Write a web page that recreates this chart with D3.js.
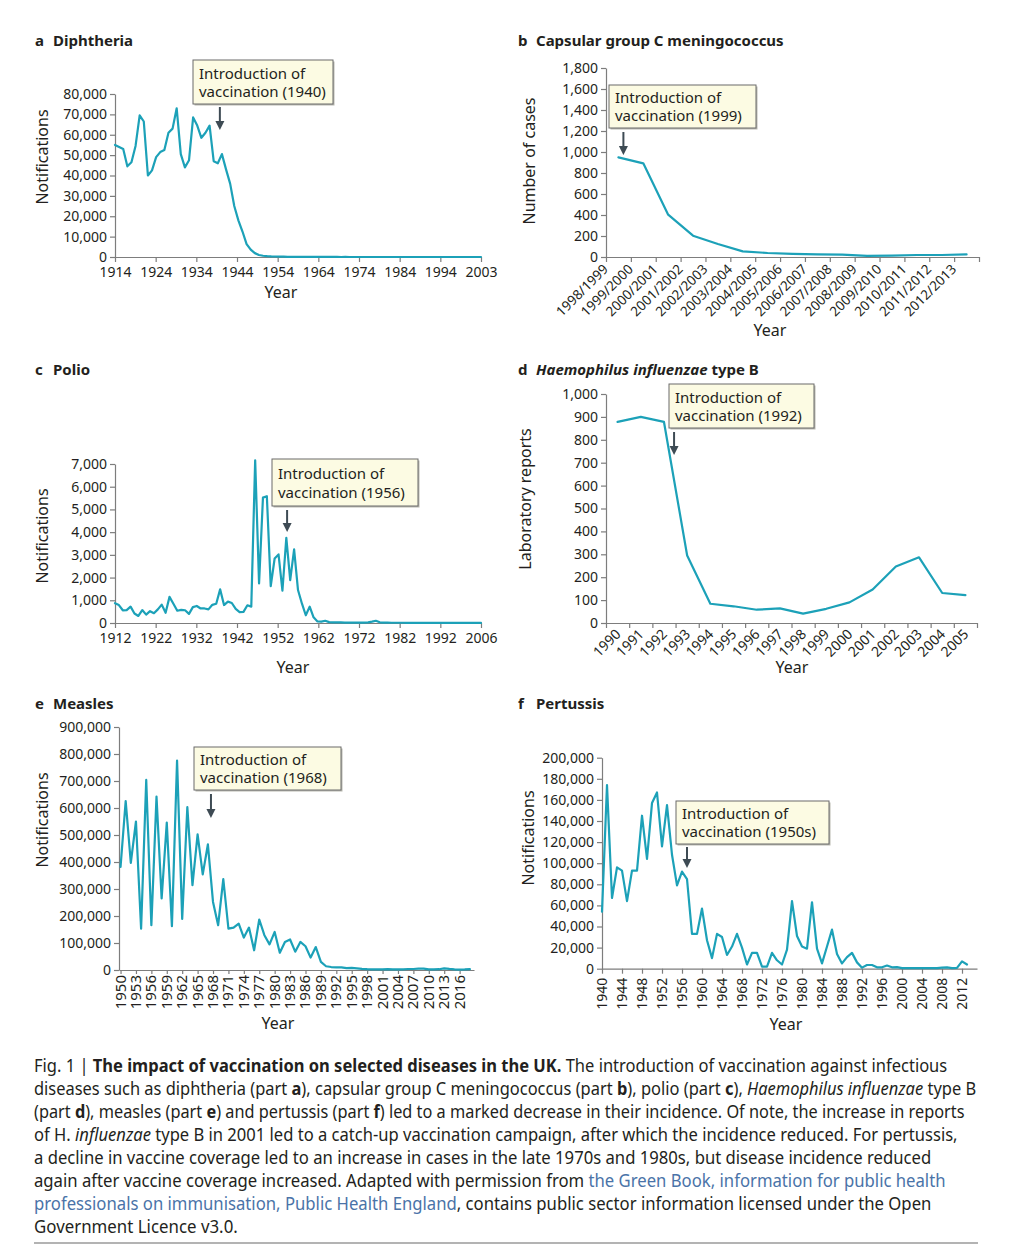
<!DOCTYPE html>
<html><head><meta charset="utf-8">
<script src="https://cdn.jsdelivr.net/npm/d3@7"></script>
<style>
body{margin:0;background:#fff;}
svg{display:block;}
</style></head>
<body><svg id="c" width="1012" height="1248"></svg>
<script>
// ---------------- DATA ----------------
// a Diphtheria (notifications, yearly from 1914)
const diphStart = 1914;
const diphtheria = [55000,54000,53000,44500,46500,54500,69500,66500,40000,42500,49000,51500,52500,61000,63000,73000,50500,44000,47500,68500,64500,58500,61000,64500,47000,46000,50500,43000,36000,25000,18000,12500,6300,3600,1900,1000,600,400,
  300,250,180,150,60,40,80,100,50,50,20,30,20,25,20,15,20,10,20,10,
  10,5,10,5,10,5,5,10,5,5,5,5,5,5,5,5,5,5,5,5,5,5,5,5,5,5,5,5,5,5,5,5];
const diphTickLabels = ["1914","1924","1934","1944","1954","1964","1974","1984","1994","2003"];
const diphYTicks = [0,10000,20000,30000,40000,50000,60000,70000,80000];

// b Capsular group C meningococcus (number of cases by season)
const meningSeasons = ["1998/1999","1999/2000","2000/2001","2001/2002","2002/2003","2003/2004","2004/2005","2005/2006","2006/2007","2007/2008","2008/2009","2009/2010","2010/2011","2011/2012","2012/2013"];
const meningCases = [949,892,403,203,124,54,38,29,25,22,10,13,19,19,25];
const meningYTicks = [0,200,400,600,800,1000,1200,1400,1600,1800];

// c Polio (notifications, yearly from 1912)
const polioStart = 1912;
const polio = [870,790,560,570,720,420,310,570,370,520,430,600,810,450,1150,850,540,580,560,400,700,750,640,640,600,800,850,1480,790,940,880,620,480,490,780,720,
  7160,1740,5520,5580,1625,2840,3020,1420,3750,1890,3240,1450,860,340,720,250,70,60,100,
  40,30,30,25,20,20,20,20,15,20,30,60,100,30,20,15,10,10,10,10,
  5,5,5,5,5,5,5,5,5,5,5,5,5,5,5,5,5,5,5,5];
const polioTickLabels = ["1912","1922","1932","1942","1952","1962","1972","1982","1992","2006"];
const polioYTicks = [0,1000,2000,3000,4000,5000,6000,7000];

// d Haemophilus influenzae type B (laboratory reports)
const hibYears = ["1990","1991","1992","1993","1994","1995","1996","1997","1998","1999","2000","2001","2002","2003","2004","2005"];
const hibReports = [878,900,878,295,84,73,58,64,41,62,90,146,247,287,131,122];
const hibYTicks = [0,100,200,300,400,500,600,700,800,900,1000];

// e Measles (notifications, yearly from 1950)
const measlesStart = 1950;
const measles = [382000,626000,397000,550000,153000,704000,166000,642000,265000,546000,162000,776000,189000,603000,314000,502000,354000,465000,252000,166000,
  337000,153000,157000,172000,120000,157000,73000,187000,129000,95000,141000,64000,104000,113000,68000,104000,88000,46000,85000,30000,
  14000,11000,10000,10000,7000,8000,6000,4000,3000,2500,2400,2300,3000,2500,2400,2300,3700,3700,5000,5000,
  2200,2100,2900,6200,4000,2500,1500,2000,3000];
const measlesTickYears = [1950,1953,1956,1959,1962,1965,1968,1971,1974,1977,1980,1983,1986,1989,1992,1995,1998,2001,2004,2007,2010,2013,2016];
const measlesYTicks = [0,100000,200000,300000,400000,500000,600000,700000,800000,900000];

// f Pertussis (notifications, yearly from 1940)
const pertStart = 1940;
const pertussis = [54000,174000,67000,96000,93000,64000,93000,93000,145000,104000,
  157000,167000,116000,155000,108000,79000,92000,85000,33000,33000,
  57000,27000,10000,33000,30000,13000,21000,33000,20000,4000,
  15000,15000,2000,2000,15000,8000,4000,18000,64000,31000,
  21000,19000,63000,19000,5000,21000,37000,14000,5000,11000,
  15000,6000,1000,3500,3500,1300,1300,3000,1300,1500,
  500,500,500,500,500,500,500,500,1000,1200,
  600,800,7000,4000];
const pertTickYears = [1940,1944,1948,1952,1956,1960,1964,1968,1972,1976,1980,1984,1988,1992,1996,2000,2004,2008,2012];
const pertYTicks = [0,20000,40000,60000,80000,100000,120000,140000,160000,180000,200000];

// ---------------- STYLE ----------------
const FONT = '"Noto Sans","Open Sans",sans-serif';
const INK = '#231f20', AXIS = '#7d7d7d', LINE = '#1ca1b8', ARROW = '#3e4b54';
const BOXFILL = '#fcfbe3', BOXSTROKE = '#6b6b6b', LINK = '#4a73a8';

const svg = d3.select('#c').style('font-family', FONT);
const fmt = d3.format(',');

function styleAxis(g, fs) {
  g.attr('font-family', null).attr('font-size', null);
  g.select('.domain').attr('stroke', AXIS).attr('stroke-width', 1.2);
  g.selectAll('.tick line').attr('stroke', AXIS).attr('stroke-width', 1.2);
  g.selectAll('.tick text').attr('fill', INK).style('font-size', fs + 'px').style('font-family', FONT);
  return g;
}
function yAxis(x, scale, ticks) {
  const g = svg.append('g').attr('transform', `translate(${x},0)`)
    .call(d3.axisLeft(scale).tickValues(ticks).tickFormat(fmt).tickSize(5).tickPadding(3).tickSizeOuter(0));
  return styleAxis(g, 14);
}
function title(x, y, letter, parts) {
  const t = svg.append('text').attr('x', x).attr('y', y).attr('fill', INK)
    .style('font-size', '15px').style('font-weight', 'bold');
  t.append('tspan').text(letter);
  parts.forEach((p, i) => {
    const s = t.append('tspan').text(p.t);
    if (i === 0) s.attr('x', x + 18);
    if (p.i) s.style('font-style', 'italic');
  });
}
function yTitle(x, y, txt) {
  svg.append('text').attr('transform', `translate(${x},${y}) rotate(-90)`)
    .attr('text-anchor', 'middle').attr('fill', INK).style('font-size', '16px').text(txt);
}
function xTitle(x, y, txt) {
  svg.append('text').attr('x', x).attr('y', y).attr('text-anchor', 'middle')
    .attr('fill', INK).style('font-size', '16px').text(txt);
}
function drawLine(data) {
  svg.append('path').datum(data)
    .attr('fill', 'none').attr('stroke', LINE).attr('stroke-width', 2.2)
    .attr('stroke-linejoin', 'round').attr('stroke-linecap', 'round')
    .attr('d', d3.line().x(d => d[0]).y(d => d[1]));
}
function box(x, y, w, h, lines) {
  svg.append('rect').attr('x', x + 1.5).attr('y', y + 1.5).attr('width', w).attr('height', h)
    .attr('fill', '#b9b9b0');
  svg.append('rect').attr('x', x).attr('y', y).attr('width', w).attr('height', h)
    .attr('fill', BOXFILL).attr('stroke', BOXSTROKE).attr('stroke-width', 1);
  const t = svg.append('text').attr('fill', INK).style('font-size', '15px');
  t.append('tspan').attr('x', x + 6).attr('y', y + h * 0.43).text(lines[0]);
  t.append('tspan').attr('x', x + 6).attr('y', y + h * 0.84).text(lines[1]);
}
function arrow(x, y1, y2) {
  svg.append('line').attr('x1', x).attr('x2', x).attr('y1', y1).attr('y2', y2 - 7)
    .attr('stroke', ARROW).attr('stroke-width', 2);
  svg.append('path').attr('d', `M${x - 4.5},${y2 - 9}L${x + 4.5},${y2 - 9}L${x},${y2}Z`).attr('fill', ARROW);
}

// ---------------- PANEL a ----------------
{
  const x = d3.scaleLinear().domain([diphStart, 2003]).range([115, 481]);
  const xt = d3.scalePoint().domain(diphTickLabels).range([115, 481]);
  const y = d3.scaleLinear().domain([0, 80000]).range([257, 94]);
  yAxis(115, y, diphYTicks);
  styleAxis(svg.append('g').attr('transform', 'translate(0,257)')
    .call(d3.axisBottom(xt).tickSize(5).tickPadding(5).tickSizeOuter(0)), 14);
  drawLine(diphtheria.map((v, i) => [x(diphStart + i), y(v)]));
  title(35, 46, 'a', [{t: 'Diphtheria'}]);
  yTitle(48, 157, 'Notifications');
  xTitle(281, 298, 'Year');
  box(193, 60, 140, 44, ['Introduction of', 'vaccination (1940)']);
  arrow(x(1939.5), 107, 130);
}

// ---------------- PANEL b ----------------
{
  const x = d3.scaleBand().domain(meningSeasons).range([606, 979]).padding(0);
  const xi = d3.scaleLinear().domain([0, meningSeasons.length]).range([606, 979]);
  const y = d3.scaleLinear().domain([0, 1800]).range([257, 68]);
  yAxis(606, y, meningYTicks);
  styleAxis(svg.append('g').attr('transform', 'translate(0,257)')
    .call(d3.axisBottom(xi).tickValues(d3.range(meningSeasons.length + 1)).tickFormat('').tickSize(5).tickSizeOuter(0)), 14);
  svg.append('g').selectAll('text').data(meningSeasons).join('text')
    .attr('transform', d => `translate(${x(d) + 3},${270}) rotate(-45)`)
    .attr('text-anchor', 'end').attr('fill', INK).style('font-size', '13.5px').text(d => d);
  drawLine(meningCases.map((v, i) => [x(meningSeasons[i]) + x.bandwidth() / 2, y(v)]));
  title(518, 46, 'b', [{t: 'Capsular group C meningococcus'}]);
  yTitle(535, 161, 'Number of cases');
  xTitle(770, 336, 'Year');
  box(609, 85, 147, 43, ['Introduction of', 'vaccination (1999)']);
  arrow(x(meningSeasons[0]) + x.bandwidth() * 0.7, 132, 155);
}

// ---------------- PANEL c ----------------
{
  const x = d3.scaleLinear().domain([polioStart, 2006]).range([115, 481]);
  const xt = d3.scalePoint().domain(polioTickLabels).range([115, 481]);
  const y = d3.scaleLinear().domain([0, 7000]).range([623, 464]);
  yAxis(115, y, polioYTicks);
  styleAxis(svg.append('g').attr('transform', 'translate(0,623)')
    .call(d3.axisBottom(xt).tickSize(5).tickPadding(5).tickSizeOuter(0)), 14);
  drawLine(polio.map((v, i) => [x(polioStart + i), y(v)]));
  title(35, 375, 'c', [{t: 'Polio'}]);
  yTitle(48, 536, 'Notifications');
  xTitle(293, 673, 'Year');
  box(272, 459, 146, 47, ['Introduction of', 'vaccination (1956)']);
  arrow(x(1956.2), 510, 532);
}

// ---------------- PANEL d ----------------
{
  const x = d3.scaleBand().domain(hibYears).range([606, 977]).padding(0);
  const xi = d3.scaleLinear().domain([0, hibYears.length]).range([606, 977]);
  const y = d3.scaleLinear().domain([0, 1000]).range([623, 394]);
  yAxis(606, y, hibYTicks);
  styleAxis(svg.append('g').attr('transform', 'translate(0,623)')
    .call(d3.axisBottom(xi).tickValues(d3.range(hibYears.length + 1)).tickFormat('').tickSize(5).tickSizeOuter(0)), 14);
  svg.append('g').selectAll('text').data(hibYears).join('text')
    .attr('transform', d => `translate(${x(d) + x.bandwidth() / 2 + 4},${635}) rotate(-45)`)
    .attr('text-anchor', 'end').attr('fill', INK).style('font-size', '14px').text(d => d);
  drawLine(hibReports.map((v, i) => [x(hibYears[i]) + x.bandwidth() / 2, y(v)]));
  title(518, 375, 'd', [{t: 'Haemophilus influenzae', i: true}, {t: ' type B'}]);
  yTitle(531, 499, 'Laboratory reports');
  xTitle(792, 673, 'Year');
  box(669, 384, 145, 44, ['Introduction of', 'vaccination (1992)']);
  arrow(xi(3) - 1.5, 432, 455);
}

// ---------------- PANEL e ----------------
{
  const x = d3.scaleLinear().domain([1949.7, 2018.8]).range([119, 474]);
  const y = d3.scaleLinear().domain([0, 900000]).range([970, 727]);
  yAxis(119, y, measlesYTicks);
  const g = svg.append('g').attr('transform', 'translate(0,970)')
    .call(d3.axisBottom(x).tickValues(measlesTickYears).tickFormat(d3.format('d')).tickSize(4).tickSizeOuter(0));
  styleAxis(g, 15);
  g.selectAll('.tick text').attr('transform', 'rotate(-90)').attr('text-anchor', 'end')
    .attr('x', -5).attr('y', 0).attr('dy', '0.3em');
  drawLine(measles.map((v, i) => [x(measlesStart + i), y(v)]));
  title(35, 709, 'e', [{t: 'Measles'}]);
  yTitle(48, 820, 'Notifications');
  xTitle(278, 1029, 'Year');
  box(194, 747, 147, 43, ['Introduction of', 'vaccination (1968)']);
  arrow(x(1967.6), 794, 818);
}

// ---------------- PANEL f ----------------
{
  const x = d3.scaleLinear().domain([1940, 2015]).range([602, 977]);
  const y = d3.scaleLinear().domain([0, 200000]).range([968.7, 757.7]);
  yAxis(602, y, pertYTicks);
  const g = svg.append('g').attr('transform', 'translate(0,968.7)')
    .call(d3.axisBottom(x).tickValues(pertTickYears).tickFormat(d3.format('d')).tickSize(5).tickSizeOuter(0));
  styleAxis(g, 14);
  g.selectAll('.tick text').attr('transform', 'rotate(-90)').attr('text-anchor', 'end')
    .attr('x', -9).attr('y', 0).attr('dy', '0.3em');
  drawLine(pertussis.map((v, i) => [x(pertStart + i), y(v)]));
  title(518, 709, 'f', [{t: 'Pertussis'}]);
  yTitle(534, 838, 'Notifications');
  xTitle(786, 1030, 'Year');
  box(676, 801, 153, 43, ['Introduction of', 'vaccination (1950s)']);
  arrow(x(1957), 847, 868);
}

// ---------------- CAPTION ----------------
const captionLines = [
  {w: 948, s: [['Fig. 1 | '], ['The impact of vaccination on selected diseases in the UK.', 'b'], [' The introduction of vaccination against infectious']]},
  {w: 977, s: [['diseases such as diphtheria (part '], ['a', 'b'], ['), capsular group C meningococcus (part '], ['b', 'b'], ['), polio (part '], ['c', 'b'], ['), '], ['Haemophilus influenzae', 'i'], [' type B']]},
  {w: 965, s: [['(part '], ['d', 'b'], ['), measles (part '], ['e', 'b'], [') and pertussis (part '], ['f', 'b'], [') led to a marked decrease in their incidence. Of note, the increase in reports']]},
  {w: 958, s: [['of H. '], ['influenzae', 'i'], [' type B in 2001 led to a catch-up vaccination campaign, after which the incidence reduced. For pertussis,']]},
  {w: 932, s: [['a decline in vaccine coverage led to an increase in cases in the late 1970s and 1980s, but disease incidence reduced']]},
  {w: 946, s: [['again after vaccine coverage increased. Adapted with permission from '], ['the Green Book, information for public health', 'l']]},
  {w: 932, s: [['professionals on immunisation, Public Health England', 'l'], [', contains public sector information licensed under the Open']]},
  {w: 238, s: [['Government Licence v3.0.']]}
];
captionLines.forEach((ln, i) => {
  const t = svg.append('text').attr('x', 0).attr('y', 0)
    .attr('fill', INK).style('font-size', '17.5px')
    .attr('xml:space', 'preserve');
  ln.s.forEach(seg => {
    const sp = t.append('tspan').text(seg[0]);
    if (seg[1] === 'b') sp.style('font-weight', 'bold');
    if (seg[1] === 'i') sp.style('font-style', 'italic');
    if (seg[1] === 'l') sp.attr('fill', LINK);
  });
  const len = t.node().getComputedTextLength();
  const k = (ln.w - 34) / len;
  t.attr('transform', `translate(34,${1072 + i * 23}) scale(${k},1)`);
});
svg.append('line').attr('x1', 34).attr('x2', 978).attr('y1', 1243).attr('y2', 1243)
  .attr('stroke', '#9a9a9a').attr('stroke-width', 1.5);
</script>
</body></html>
